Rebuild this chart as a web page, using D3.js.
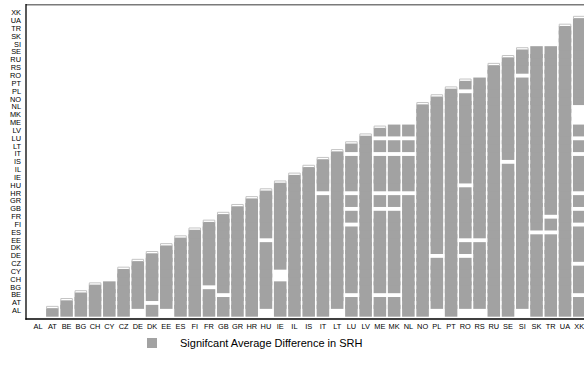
<!DOCTYPE html>
<html>
<head>
<meta charset="utf-8">
<script src="https://cdn.jsdelivr.net/npm/d3@7"></script>
<style>
  body { margin: 0; background: #fff; }
  svg { display: block; font-family: "Liberation Sans", Arial, sans-serif; }
</style>
</head>
<body>
<div id="chart"></div>
<script>
// Countries, same order on both axes
const countries = ['AL', 'AT', 'BE', 'BG', 'CH', 'CY', 'CZ', 'DE', 'DK', 'EE', 'ES', 'FI', 'FR',
  'GB', 'GR', 'HR', 'HU', 'IE', 'IL', 'IS', 'IT', 'LT', 'LU', 'LV', 'ME', 'MK', 'NL', 'NO', 'PL',
  'PT', 'RO', 'RS', 'RU', 'SE', 'SI', 'SK', 'TR', 'UA', 'XK'];

// Pairs (column, row) where the difference is NOT significant
const nonSignificant = [
  ['CY', 'CH'], ['DE', 'AL'], ['DK', 'AT'], ['EE', 'AL'], ['FR', 'BG'], ['GB', 'BE'],
  ['HU', 'EE'], ['HU', 'AL'], ['IE', 'CH'], ['IE', 'CY'], ['IT', 'HR'], ['LT', 'AL'],
  ['LU', 'IT'], ['LU', 'HR'], ['LU', 'GB'], ['LU', 'FI'], ['LU', 'BE'],
  ['ME', 'LU'], ['ME', 'IT'], ['ME', 'HR'], ['ME', 'GB'], ['ME', 'BE'],
  ['MK', 'ME'], ['MK', 'LU'], ['MK', 'IT'], ['MK', 'HR'], ['MK', 'GB'], ['MK', 'BE'],
  ['NL', 'MK'], ['NL', 'ME'], ['NL', 'LU'], ['NL', 'IT'], ['NL', 'HR'],
  ['PL', 'DE'], ['PL', 'AL'],
  ['RO', 'PL'], ['RO', 'HU'], ['RO', 'EE'], ['RO', 'DE'], ['RO', 'AL'],
  ['RS', 'RO'], ['RS', 'EE'], ['RS', 'AL'],
  ['SE', 'IS'], ['SI', 'RO'], ['SI', 'AL'], ['SK', 'SI'], ['SK', 'ES'],
  ['TR', 'SK'], ['TR', 'SI'], ['TR', 'FR'], ['TR', 'ES'],
  ['XK', 'NL'], ['XK', 'MK'], ['XK', 'ME'], ['XK', 'LU'], ['XK', 'IT'], ['XK', 'HR'],
  ['XK', 'GB'], ['XK', 'FI'], ['XK', 'CZ'], ['XK', 'BE']
];

const legendLabel = 'Signifcant Average Difference in SRH';

const width = 584, height = 373;
const fill = '#a2a2a2';

const svg = d3.select('#chart').append('svg')
  .attr('width', width)
  .attr('height', height);

const x = d3.scaleBand()
  .domain(countries)
  .range([31, 31 + countries.length * 14.24])
  .paddingInner(0.12)
  .paddingOuter(0.06);

const y = d3.scaleBand()
  .domain(countries.slice().reverse())
  .range([9, 314.7]);

// build lower-triangle cells (row below column)
const nsKey = new Set(nonSignificant.map(d => d[0] + '|' + d[1]));
const cells = [];
countries.forEach((col, i) => {
  countries.slice(0, i).forEach((row, j) => {
    if (!nsKey.has(col + '|' + row)) {
      cells.push({ col, row, top: j === i - 1 });
    }
  });
});

const plot = svg.append('g');

plot.selectAll('rect.cell')
  .data(cells)
  .enter()
  .append('rect')
  .attr('class', 'cell')
  .attr('x', d => x(d.col))
  .attr('width', x.bandwidth())
  .attr('y', d => d.top ? y(d.row) + 1.3 : y(d.row) - 2)
  .attr('height', d => d.top ? y.bandwidth() + 0.7 : y.bandwidth() + 4)
  .style('fill', fill);

// light cap above the column top cell
plot.selectAll('path.cap')
  .data(cells.filter(d => d.top))
  .enter()
  .append('path')
  .attr('class', 'cap')
  .attr('d', d => {
    const x0 = x(d.col) + 0.5, x1 = x(d.col) + x.bandwidth() - 0.5, y0 = y(d.row) - 0.5;
    return `M${x0},${y0 + 2.5}V${y0}H${x1}V${y0 + 2.5}`;
  })
  .style('fill', 'none')
  .style('stroke', '#c4c4c4')
  .style('stroke-width', 1);

// frame lines
svg.append('line')
  .attr('x1', 26).attr('x2', width)
  .attr('y1', 4.8).attr('y2', 4.8)
  .style('stroke', '#7a7a7a').style('stroke-width', 1.6);

svg.append('line')
  .attr('x1', 26).attr('x2', 26)
  .attr('y1', 4).attr('y2', 319.7)
  .style('stroke', '#000').style('stroke-width', 1.3);

svg.append('line')
  .attr('x1', 25.4).attr('x2', width)
  .attr('y1', 319).attr('y2', 319)
  .style('stroke', '#000').style('stroke-width', 1.5);

// axes
svg.append('g')
  .attr('transform', 'translate(26,0)')
  .call(d3.axisLeft(y).tickSize(0).tickPadding(5));

svg.append('g')
  .attr('transform', 'translate(0,319)')
  .call(d3.axisBottom(x).tickSize(0).tickPadding(4.5));

svg.selectAll('.domain').remove();
svg.selectAll('.tick text')
  .style('font-family', '"Liberation Sans", Arial, sans-serif')
  .style('font-size', '7.4px')
  .style('fill', '#000');

// legend
const legend = svg.append('g')
  .attr('class', 'legend')
  .attr('transform', 'translate(147, 338)');

legend.append('rect')
  .attr('width', 10)
  .attr('height', 10)
  .style('fill', fill);

legend.append('text')
  .attr('x', 33)
  .attr('y', 5)
  .attr('dy', '0.35em')
  .style('font-size', '11px')
  .style('fill', '#000')
  .text(legendLabel);
</script>
</body>
</html>
